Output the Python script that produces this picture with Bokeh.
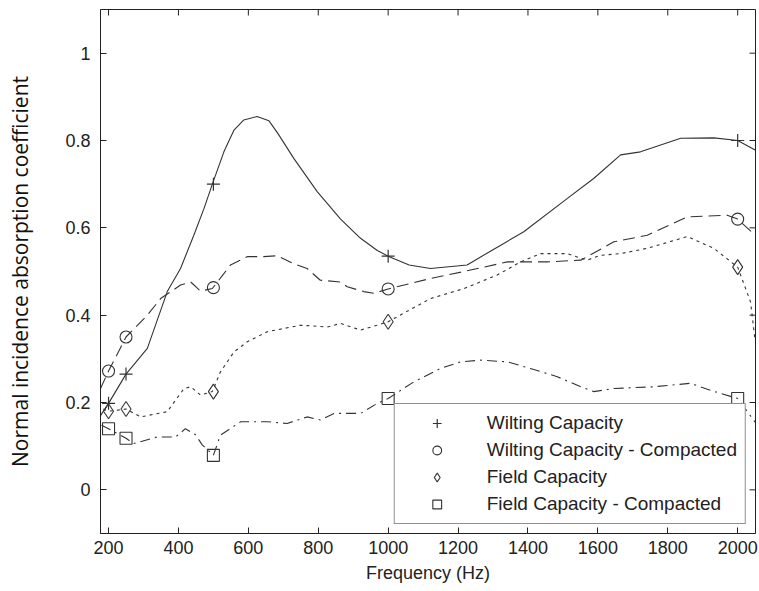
from bokeh.plotting import figure
from bokeh.models import (FixedTicker, Legend, LegendItem, Range1d)
from bokeh.embed import file_html
from bokeh.resources import INLINE

# ---------------- data ----------------
x_ticks = [200, 400, 600, 800, 1000, 1200, 1400, 1600, 1800, 2000]
x_tick_labels = ["200", "400", "600", "800", "1000", "1200", "1400", "1600", "1800", "2000"]
y_ticks = [0, 0.2, 0.4, 0.6, 0.8, 1.0]
y_tick_labels = ["0", "0.2", "0.4", "0.6", "0.8", "1"]

marker_freq = [200, 250, 500, 1000, 2000]

series_names = ["Wilting Capacity", "Wilting Capacity - Compacted",
                "Field Capacity", "Field Capacity - Compacted"]

wc_f = [177, 200, 250, 311, 368, 406, 444, 473, 497, 530, 559, 587, 625, 659, 683,
        730, 797, 864, 921, 969, 1000, 1060, 1121, 1226, 1300, 1388, 1512, 1588,
        1665, 1722, 1837, 1932, 2000, 2050]
wc_v = [0.17, 0.198, 0.265, 0.324, 0.454, 0.507, 0.583, 0.644, 0.70, 0.774, 0.824,
        0.847, 0.855, 0.845, 0.818, 0.759, 0.683, 0.62, 0.576, 0.548, 0.535, 0.515,
        0.507, 0.515, 0.55, 0.591, 0.667, 0.713, 0.767, 0.774, 0.805, 0.806, 0.80,
        0.778]
wc_m = [0.198, 0.265, 0.70, 0.535, 0.80]

wcc_f = [177, 200, 250, 311, 349, 406, 435, 463, 497, 525, 549, 597, 644, 682, 730,
         768, 806, 864, 883, 930, 959, 1000, 1121, 1217, 1341, 1455, 1551, 1646,
         1741, 1856, 1970, 2000, 2050]
wcc_v = [0.232, 0.272, 0.35, 0.40, 0.438, 0.469, 0.476, 0.455, 0.461, 0.49, 0.515,
         0.534, 0.534, 0.536, 0.518, 0.507, 0.48, 0.476, 0.465, 0.454, 0.45, 0.46,
         0.484, 0.50, 0.522, 0.522, 0.526, 0.568, 0.583, 0.625, 0.629, 0.62, 0.583]
wcc_m = [0.272, 0.35, 0.463, 0.46, 0.62]

fc_f = [185, 200, 250, 292, 368, 416, 435, 463, 497, 520, 559, 597, 654, 749, 826,
        864, 921, 969, 1000, 1121, 1217, 1312, 1379, 1436, 1512, 1569, 1607, 1665,
        1741, 1856, 1932, 2000, 2037, 2050]
fc_v = [0.185, 0.18, 0.185, 0.167, 0.179, 0.232, 0.236, 0.217, 0.225, 0.27, 0.316,
        0.339, 0.362, 0.377, 0.373, 0.381, 0.366, 0.377, 0.385, 0.438, 0.461, 0.492,
        0.522, 0.541, 0.541, 0.526, 0.537, 0.541, 0.553, 0.58, 0.553, 0.51, 0.43,
        0.34]
fc_m = [0.18, 0.185, 0.225, 0.385, 0.51]

fcc_f = [180, 200, 250, 272, 339, 392, 420, 449, 468, 500, 520, 578, 654, 711, 768,
         806, 845, 921, 969, 1000, 1073, 1150, 1207, 1264, 1341, 1407, 1484, 1551,
         1588, 1646, 1760, 1865, 1922, 2000, 2050]
fcc_v = [0.148, 0.14, 0.118, 0.106, 0.121, 0.121, 0.14, 0.126, 0.103, 0.079, 0.125,
         0.156, 0.156, 0.152, 0.167, 0.16, 0.175, 0.175, 0.198, 0.209, 0.247, 0.278,
         0.293, 0.297, 0.293, 0.278, 0.259, 0.236, 0.225, 0.232, 0.236, 0.244,
         0.228, 0.209, 0.155]
fcc_m = [0.14, 0.118, 0.079, 0.209, 0.209]

X_MIN, X_MAX = 177, 2051
Y_MIN, Y_MAX = -0.1, 1.1

# ---------------- figure ----------------
TICK_FONT = "Liberation Sans"
INK = "#222222"

p = figure(width=758, height=590, output_backend="svg", toolbar_location=None,
           x_range=Range1d(X_MIN, X_MAX), y_range=Range1d(Y_MIN, Y_MAX),
           min_border_left=100, min_border_top=9, min_border_right=3,
           min_border_bottom=57, x_axis_label="Frequency (Hz)",
           y_axis_label="Normal incidence absorption coefficient")
p.background_fill_color = "white"
p.border_fill_color = "white"
p.outline_line_color = INK
p.outline_line_width = 1
p.xgrid.visible = False
p.ygrid.visible = False

xa = p.xaxis[0]
ya = p.yaxis[0]
xa.ticker = FixedTicker(ticks=x_ticks)
ya.ticker = FixedTicker(ticks=y_ticks)
xa.major_label_overrides = {t: l for t, l in zip(x_ticks, x_tick_labels)}
ya.major_label_overrides = {t: l for t, l in zip(y_ticks, y_tick_labels)}
for ax in (xa, ya):
    ax.major_tick_in = 6
    ax.major_tick_out = 0
    ax.minor_tick_line_color = None
    ax.axis_line_color = INK
    ax.major_tick_line_color = INK
    ax.major_label_text_font = TICK_FONT
    ax.major_label_text_font_size = "18px"
    ax.major_label_text_color = INK
xa.major_label_standoff = 7
xa.axis_label_standoff = 6
xa.axis_label_text_font = TICK_FONT
xa.axis_label_text_font_size = "18px"
xa.axis_label_text_font_style = "normal"
xa.axis_label_text_color = INK
ya.major_label_standoff = 10
ya.axis_label_standoff = 28
ya.axis_label_text_font = "Open Sans"
ya.axis_label_text_font_size = "21px"
ya.axis_label_text_font_style = "normal"
ya.axis_label_text_color = "#111111"

# mirrored inward ticks on the top and right frame edges (from tick lists)
dy = (Y_MAX - Y_MIN) * 6 / 524
dx = (X_MAX - X_MIN) * 6 / 655
p.segment(x0=x_ticks, y0=[Y_MAX] * len(x_ticks), x1=x_ticks,
          y1=[Y_MAX - dy] * len(x_ticks), line_color=INK, line_width=1)
p.segment(x0=[X_MAX] * len(y_ticks), y0=y_ticks, x1=[X_MAX - dx] * len(y_ticks),
          y1=y_ticks, line_color=INK, line_width=1)

LC = "#333333"
p.line(wc_f, wc_v, line_color=LC, line_width=1.1)
p.line(wcc_f, wcc_v, line_color=LC, line_width=1.1, line_dash="12 6")
p.line(fc_f, fc_v, line_color=LC, line_width=1.1, line_dash="3 4")
p.line(fcc_f, fcc_v, line_color=LC, line_width=1.1, line_dash="10 5 2 5")

r1 = p.scatter(marker_freq, wc_m, marker="cross", size=13, line_color=LC,
               line_width=1.2, fill_color=None)
r2 = p.scatter(marker_freq, wcc_m, marker="circle", size=12, line_color=LC,
               line_width=1.1, fill_color=None)
r3 = p.scatter(marker_freq, fc_m, marker="diamond", size=15, line_color=LC,
               line_width=1.1, fill_color=None)
r4 = p.scatter(marker_freq, fcc_m, marker="square", size=12, line_color=LC,
               line_width=1.1, fill_color=None)

legend = Legend(items=[LegendItem(label=n, renderers=[r])
                       for n, r in zip(series_names, [r1, r2, r3, r4])],
                location="bottom_right")
legend.margin = 9
legend.padding = 8
legend.spacing = 5
legend.glyph_width = 68
legend.glyph_height = 22
legend.label_height = 22
legend.label_standoff = 16
legend.label_text_font = TICK_FONT
legend.label_text_font_size = "19px"
legend.label_text_color = INK
legend.border_line_color = INK
legend.border_line_width = 1
legend.background_fill_color = "white"
legend.background_fill_alpha = 1
p.add_layout(legend, "center")

open("out.html", "w").write(file_html(p, INLINE))
